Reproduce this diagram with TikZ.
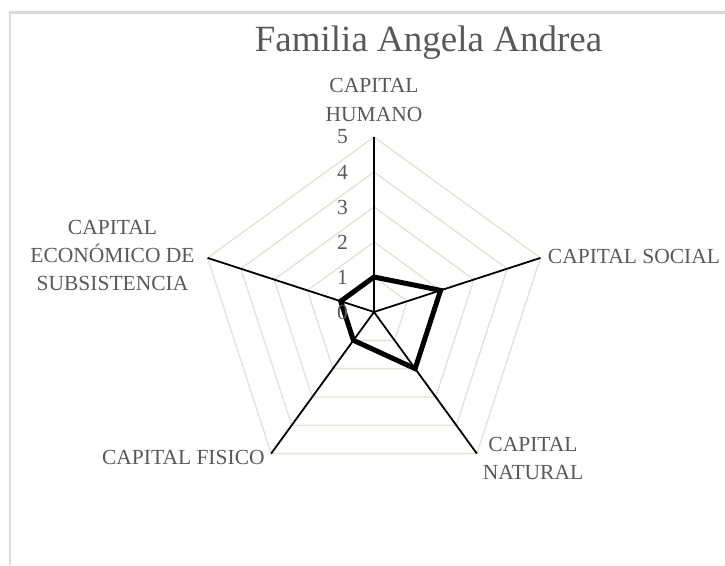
\documentclass[tikz,border=0pt]{standalone}
\usepackage{fontspec}
\setmainfont{Liberation Serif}
\definecolor{txtc}{HTML}{595959}
\definecolor{gridc}{HTML}{E6E2D5}
\definecolor{framec}{HTML}{D9D9D9}
\begin{document}
\begin{tikzpicture}[x=1pt,y=-1pt,
  lbl/.style={text=txtc, font=\fontsize{21.5}{28.4}\selectfont, inner sep=0pt, align=center},
  ticklbl/.style={text=txtc, font=\fontsize{21.5}{28.4}\selectfont, inner sep=0pt, anchor=east},
  gridline/.style={draw=gridc, line width=1.4pt},
  axisline/.style={draw=black, line width=1.8pt},
  dataline/.style={draw=black, line width=5pt, line join=miter}]
\useasboundingbox (0,0) rectangle (725,565);
\draw[framec, line width=2.5pt] (10,565) -- (10,12.5) -- (725,12.5);
\coordinate (O) at (374,312);
% grid
\begin{scope}[shift={(374,312)}]
\foreach \k in {1,...,5}{
  \draw[gridline] (-90:\k*35) -- (-18:\k*35) -- (54:\k*35) -- (126:\k*35) -- (198:\k*35) -- cycle;
}
\coordinate (hum) at (-90:175);
\coordinate (soc) at (-18:175);
\coordinate (nat) at (54:175);
\coordinate (fis) at (126:175);
\coordinate (eco) at (198:175);
\coordinate (dhum) at (-90:35);
\coordinate (dsoc) at (-18:70);
\coordinate (dnat) at (54:70);
\coordinate (dfis) at (126:35);
\coordinate (deco) at (198:35);
\end{scope}
% axes
\foreach \a in {hum,soc,nat,fis,eco}{ \draw[axisline] (O) -- (\a); }
% data
\draw[dataline] (dhum) -- (dsoc) -- (dnat) -- (dfis) -- (deco) -- cycle;
% tick labels
\foreach \k in {0,...,5}{ \node[ticklbl] (t\k) at (348,312-35*\k) {\k}; }
% title
\node[text=txtc, font=\fontsize{37}{40}\selectfont, inner sep=0pt, anchor=base] (title) at (428.5,51.7) {Familia Angela Andrea};
% axis labels
\node[lbl] (lhum) at (374,100) {CAPITAL\\HUMANO};
\node[lbl] (lsoc) at (634,256) {CAPITAL SOCIAL};
\node[lbl] (lnat) at (533,458.4) {CAPITAL\\NATURAL};
\node[lbl] (lfis) at (183.4,457.5) {CAPITAL FISICO};
\node[lbl] (leco) at (112.5,255.5) {CAPITAL\\ECONÓMICO DE\\SUBSISTENCIA};
\end{tikzpicture}
\end{document}
